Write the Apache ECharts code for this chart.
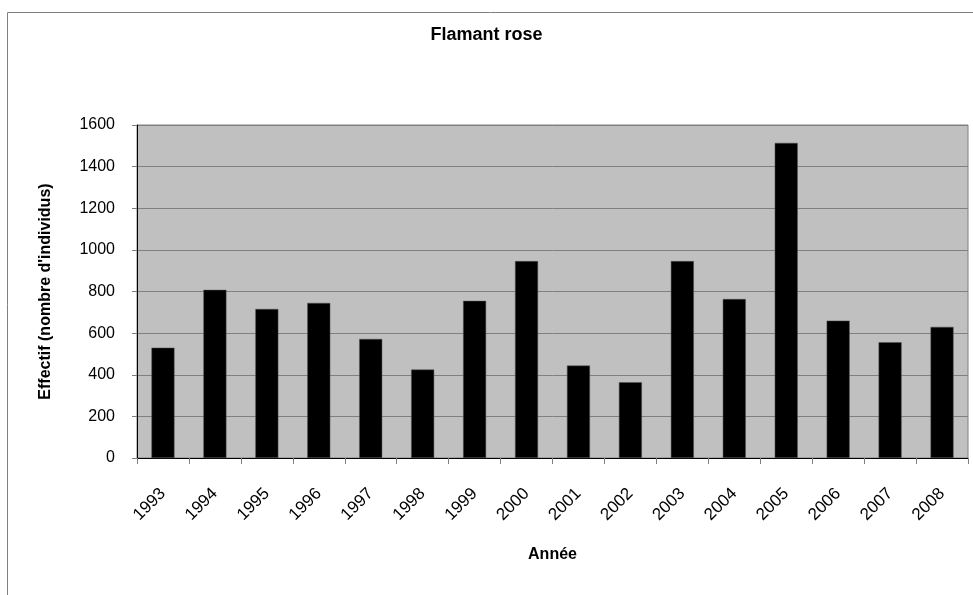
<!DOCTYPE html>
<html>
<head>
<meta charset="utf-8">
<script src="https://cdn.jsdelivr.net/npm/echarts@6/dist/echarts.min.js"></script>
<style>
html,body{margin:0;padding:0;background:#fff;}
#main{width:973px;height:595px;}
</style>
</head>
<body>
<div id="main"></div>
<script>
let years = ['1993','1994','1995','1996','1997','1998','1999','2000','2001','2002','2003','2004','2005','2006','2007','2008'];
let effectifs = [530, 808, 716, 745, 572, 425, 755, 946, 444, 364, 946, 764, 1514, 660, 556, 630];
let yTicks = {min: 0, max: 1600, interval: 200};

window.addEventListener('load', function () {
    let chart = echarts.init(document.getElementById('main'));
    let font = 'Arial, "Liberation Sans", sans-serif';
    let option = {
        animation: false,
        textStyle: {fontFamily: font},
        graphic: [{
            type: 'rect',
            shape: {x: 7.5, y: 12.5, width: 1000, height: 700},
            style: {fill: null, stroke: '#808080', lineWidth: 1},
            z: -10
        }],
        title: {
            text: 'Flamant rose',
            left: 'center',
            top: 21,
            textStyle: {fontSize: 18, fontWeight: 'bold', color: '#000', fontFamily: font}
        },
        grid: {
            left: 137, right: 5, top: 125, bottom: 137,
            show: true,
            backgroundColor: '#c0c0c0',
            borderColor: '#808080',
            borderWidth: 1
        },
        xAxis: {
            type: 'category',
            data: years,
            name: 'Année',
            nameLocation: 'middle',
            nameGap: 89,
            nameTextStyle: {fontSize: 16, fontWeight: 'bold', color: '#000', fontFamily: font},
            axisLine: {lineStyle: {color: '#000', width: 1}},
            axisTick: {show: true, length: 6, lineStyle: {color: '#808080'}},
            axisLabel: {rotate: 45, fontSize: 17, color: '#000', margin: 33, fontFamily: font}
        },
        yAxis: {
            type: 'value',
            min: yTicks.min,
            max: yTicks.max,
            interval: yTicks.interval,
            name: "Effectif (nombre d'individus)",
            nameLocation: 'middle',
            nameGap: 83,
            nameTextStyle: {fontSize: 16, fontWeight: 'bold', color: '#000', fontFamily: font},
            axisLine: {show: true, lineStyle: {color: '#000', width: 1}},
            axisTick: {show: true, length: 5, lineStyle: {color: '#808080'}},
            axisLabel: {fontSize: 16, color: '#000', margin: 22, fontFamily: font,
                formatter: function (v) { return String(v); }},
            splitLine: {lineStyle: {color: '#808080', width: 1}}
        },
        series: [{
            type: 'bar',
            data: effectifs,
            barWidth: 23,
            itemStyle: {color: '#000', borderColor: '#555', borderWidth: 0.5}
        }]
    };
    chart.setOption(option);
}, false);
</script>
</body>
</html>
